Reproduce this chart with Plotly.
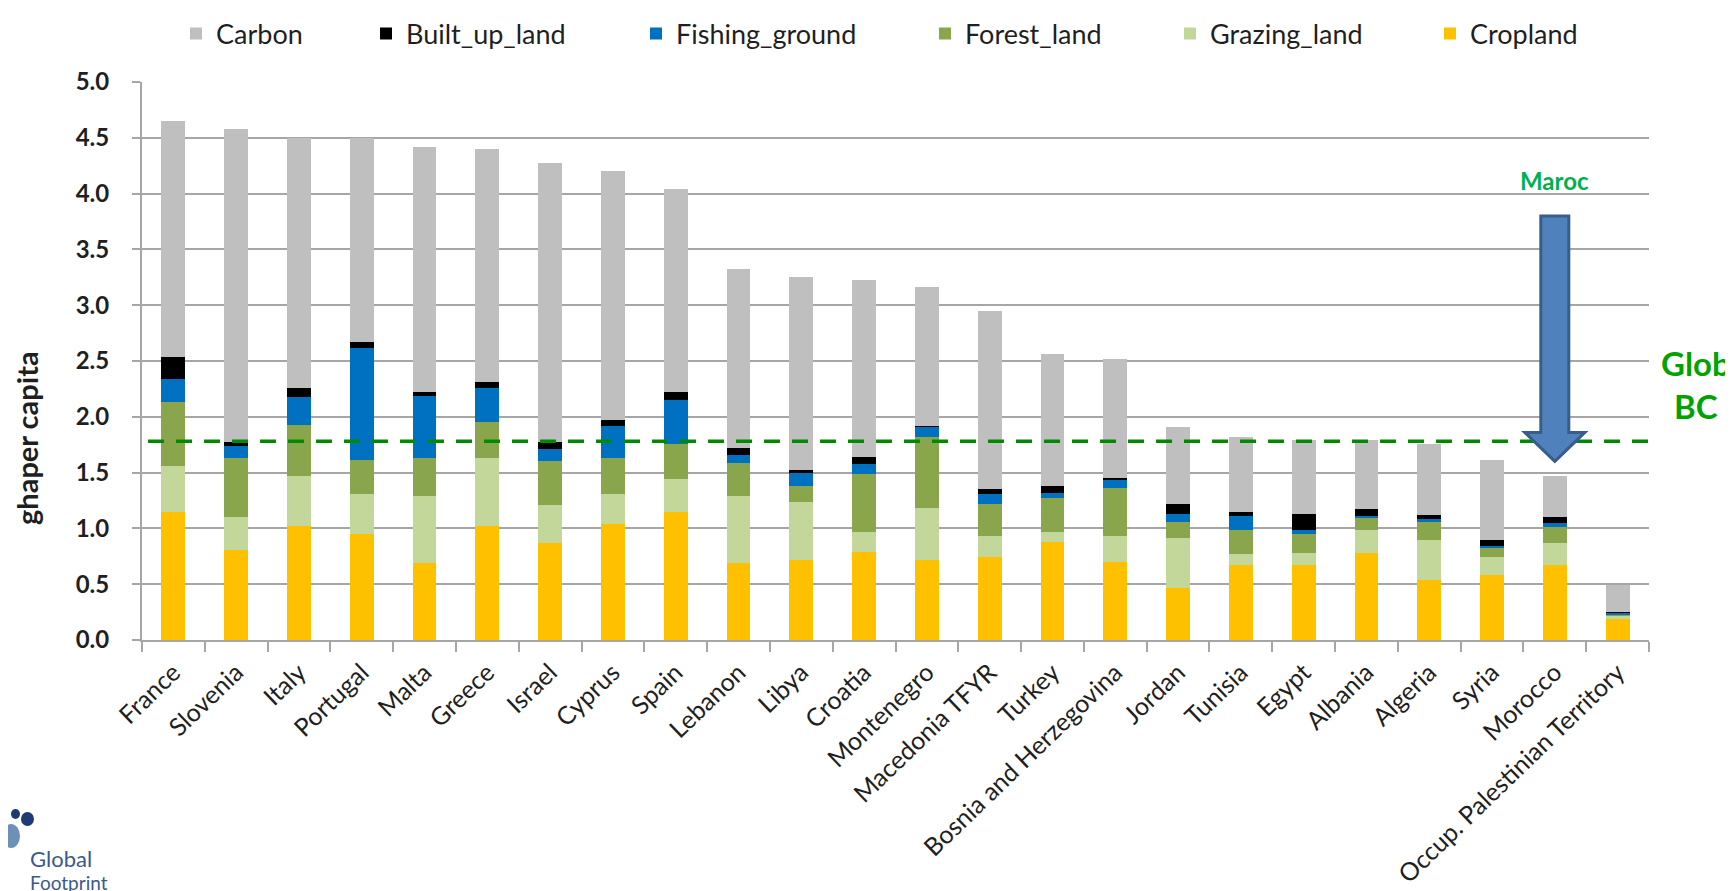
import plotly.graph_objects as go

countries = ["France", "Slovenia", "Italy", "Portugal", "Malta", "Greece", "Israel", "Cyprus",
             "Spain", "Lebanon", "Libya", "Croatia", "Montenegro", "Macedonia TFYR", "Turkey",
             "Bosnia and Herzegovina", "Jordan", "Tunisia", "Egypt", "Albania", "Algeria",
             "Syria", "Morocco", "Occup. Palestinian Territory"]

cropland = [1.15, 0.81, 1.02, 0.95, 0.69, 1.02, 0.87, 1.04, 1.15, 0.69, 0.72, 0.79, 0.72, 0.74,
            0.88, 0.70, 0.47, 0.67, 0.67, 0.78, 0.54, 0.58, 0.67, 0.19]
grazing_land = [0.41, 0.29, 0.45, 0.36, 0.60, 0.61, 0.34, 0.27, 0.29, 0.60, 0.52, 0.18, 0.46, 0.19,
                0.09, 0.23, 0.44, 0.10, 0.11, 0.21, 0.36, 0.16, 0.20, 0.03]
forest_land = [0.57, 0.53, 0.46, 0.30, 0.34, 0.32, 0.39, 0.32, 0.32, 0.30, 0.14, 0.52, 0.64, 0.29,
               0.30, 0.43, 0.15, 0.22, 0.17, 0.11, 0.16, 0.09, 0.14, 0.005]
fishing_ground = [0.21, 0.11, 0.25, 1.01, 0.56, 0.31, 0.11, 0.29, 0.39, 0.07, 0.12, 0.09, 0.09, 0.09,
                  0.05, 0.07, 0.07, 0.12, 0.04, 0.01, 0.02, 0.01, 0.04, 0.02]
built_up_land = [0.20, 0.03, 0.08, 0.05, 0.03, 0.05, 0.06, 0.05, 0.07, 0.06, 0.02, 0.06, 0.01, 0.04,
                 0.06, 0.02, 0.09, 0.04, 0.14, 0.06, 0.04, 0.06, 0.05, 0.01]
carbon = [2.11, 2.81, 2.24, 1.83, 2.20, 2.09, 2.50, 2.23, 1.82, 1.60, 1.73, 1.59, 1.24, 1.60,
          1.18, 1.07, 0.69, 0.67, 0.66, 0.62, 0.64, 0.71, 0.37, 0.24]

global_bc = 1.78
highlight_country = "Morocco"
arrow_top = 3.80
arrow_head = 1.86
arrow_tip = 1.60

series = [
    ("Cropland", cropland, "#FFC000"),
    ("Grazing_land", grazing_land, "#C4D79B"),
    ("Forest_land", forest_land, "#8AA64C"),
    ("Fishing_ground", fishing_ground, "#0070C0"),
    ("Built_up_land", built_up_land, "#000000"),
    ("Carbon", carbon, "#BFBFBF"),
]

# legend symbol centres (px) for each entry, Carbon first
legend_px = {"Carbon": 196, "Built_up_land": 386, "Fishing_ground": 656,
             "Forest_land": 945, "Grazing_land": 1190, "Cropland": 1450}

W, H = 1733, 891
ML, MR, MT, MB = 134, 92, 74, 259
PW = W - ML - MR
PH = H - MT - MB


def py(p):
    """pixel row -> paper y"""
    return (H - MB - p) / PH


def px(p):
    """pixel column -> paper x"""
    return (p - ML) / PW


FONT = "Lato"
TXT = "#1f1f1f"
fig = go.Figure()
legend_names = ["Carbon", "Built_up_land", "Fishing_ground", "Forest_land", "Grazing_land", "Cropland"]
for name, vals, col in series:
    li = legend_names.index(name)
    lname = "legend" if li == 0 else f"legend{li + 1}"
    fig.add_trace(go.Bar(x=countries, y=vals, name=name, marker=dict(color=col, line=dict(width=0)),
                         legend=lname))

layout_legends = {}
for li, name in enumerate(legend_names):
    key = "legend" if li == 0 else f"legend{li + 1}"
    layout_legends[key] = dict(
        x=px(legend_px[name] - 28), y=py(26), xanchor="left", yanchor="middle",
        xref="paper", yref="paper", bgcolor="rgba(0,0,0,0)", borderwidth=0,
        font=dict(family=FONT, size=27, color=TXT), itemwidth=30)

fig.update_layout(
    barmode="stack", bargap=0.62,
    width=W, height=H,
    margin=dict(l=ML, r=MR, t=MT, b=MB, autoexpand=False),
    paper_bgcolor="white", plot_bgcolor="white",
    showlegend=True,
    font=dict(family=FONT, color=TXT),
    **layout_legends,
)

fig.update_yaxes(range=[0, 5], dtick=0.5, tickformat=".1f", showgrid=True, gridcolor="#A6A6A6",
                 gridwidth=2, zeroline=False, showline=True, linecolor="#A6A6A6", linewidth=2,
                 ticks="outside", ticklen=8, tickwidth=2, tickcolor="#A6A6A6",
                 tickfont=dict(family=FONT, size=24, color=TXT, weight="bold"),
                 ticklabelstandoff=18)
fig.update_xaxes(showline=True, linecolor="#A6A6A6", linewidth=2, ticks="outside", ticklen=10,
                 tickwidth=2, tickcolor="#A6A6A6", tickson="boundaries", tickangle=-44,
                 tickfont=dict(family=FONT, size=25, color=TXT), showgrid=False,
                 ticklabelstandoff=6)

# Global biocapacity dashed line
fig.add_shape(type="line", xref="paper", yref="y", x0=0.004, x1=1.005, y0=global_bc, y1=global_bc,
              line=dict(color="#008A00", width=3.5, dash="16px,12px"))

# block arrow over Morocco
idx = countries.index(highlight_country)
n = len(countries)
cx = (idx + 0.5) / n
sw = 14 / PW
hw = 30 / PW
path = (f"M{cx - sw},{arrow_top} L{cx + sw},{arrow_top} L{cx + sw},{arrow_head} "
        f"L{cx + hw},{arrow_head} L{cx},{arrow_tip} L{cx - hw},{arrow_head} L{cx - sw},{arrow_head} Z")
fig.add_shape(type="path", xref="paper", yref="y", path=path, fillcolor="#4F81BD",
              line=dict(color="#385D8A", width=3))

fig.add_annotation(text="<b>Maroc</b>", xref="paper", yref="paper", x=cx, y=py(172),
                   xanchor="center", yanchor="middle", showarrow=False,
                   font=dict(family=FONT, size=24, color="#00B050"))
fig.add_annotation(text="<b>Glob</b>", xref="paper", yref="paper", x=px(1651),
                   y=py(355), xanchor="left", yanchor="middle", showarrow=False,
                   font=dict(family=FONT, size=33, color="#00A300"))
fig.add_annotation(text="<b>BC</b>", xref="paper", yref="paper", x=px(1688),
                   y=py(398), xanchor="center", yanchor="middle", showarrow=False,
                   font=dict(family=FONT, size=33, color="#00A300"))

# y-axis title
fig.add_annotation(text="<b>ghaper capita</b>", xref="paper", yref="paper", x=px(18),
                   y=py(430), xanchor="center", yanchor="middle", textangle=-90, showarrow=False,
                   font=dict(family=FONT, size=29, color=TXT))

# logo (Global Footprint Network)
fig.add_annotation(text="Global", xref="paper", yref="paper", x=px(20), y=py(850),
                   xanchor="left", yanchor="middle", showarrow=False,
                   font=dict(family=FONT, size=22, color="#3A5A8C"))
fig.add_annotation(text="Footprint", xref="paper", yref="paper", x=px(20), y=py(874),
                   xanchor="left", yanchor="middle", showarrow=False,
                   font=dict(family=FONT, size=19, color="#3A5A8C"))
for (x0, y0, x1, y1, c) in [(13, 804, 26, 818, "#1F3B73"), (3, 801, 12, 811, "#1F3B73"),
                            (-6, 816, 12, 840, "#6E8FB8")]:
    fig.add_shape(type="circle", xref="paper", yref="paper", x0=px(x0), x1=px(x1),
                  y0=py(y1), y1=py(y0), fillcolor=c, line=dict(width=0))

fig.write_html("out.html")
